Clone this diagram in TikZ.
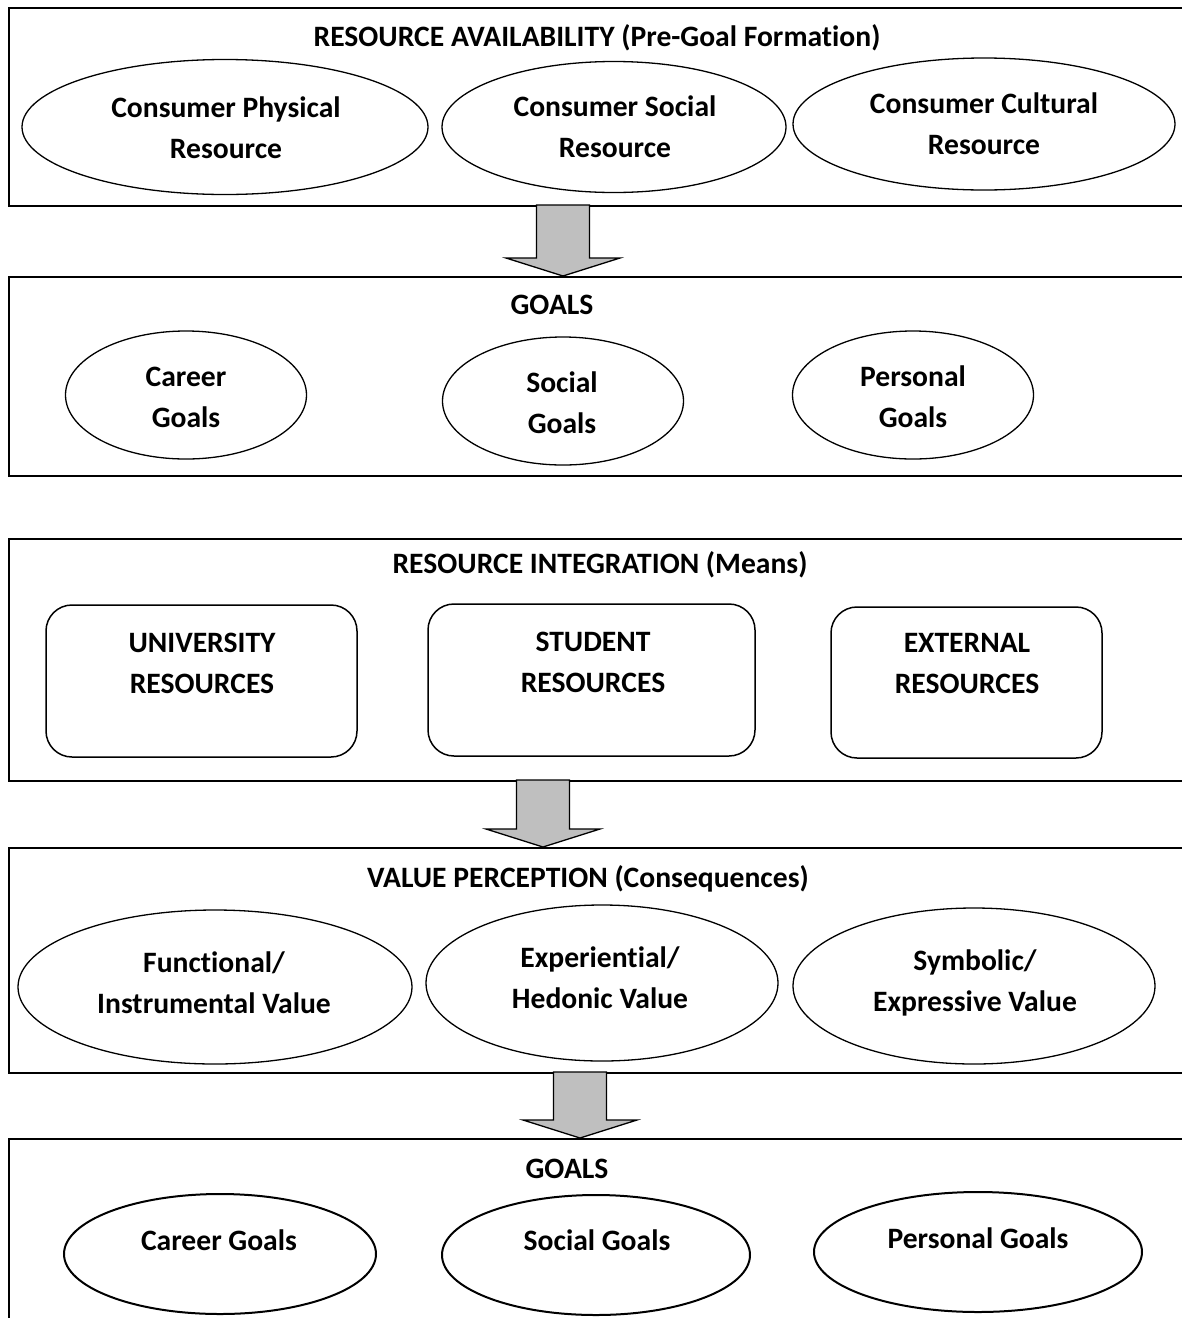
\documentclass[tikz,border=0pt]{standalone}
\usepackage{fontspec}
\setmainfont{Carlito}[Ligatures=NoCommon]
\usetikzlibrary{calc,shapes.geometric}
\definecolor{arrowgray}{HTML}{BFBFBF}
\newcommand\lbl{\fontsize{29.6}{41}\selectfont\bfseries}
% hollow block arrow from a shaft top (#1) to a tip (#2)
\newcommand\blockarrow[2]{%
  \draw[blockarrow] ($(#1)+(-26.5,0)$) -- ($(#2)+(-26.5,-18)$) -- ($(#2)+(-57,-18)$)
    -- (#2) -- ($(#2)+(57,-18)$) -- ($(#2)+(26.5,-18)$) -- ($(#1)+(26.5,0)$) -- cycle;}
\begin{document}
\begin{tikzpicture}[x=1pt,y=-1pt,
  panel/.style={draw, line width=1.7pt, rectangle, anchor=north west, inner sep=0pt},
  oval/.style={draw, ellipse, line width=1.3pt, inner sep=0pt},
  thickoval/.style={oval, line width=2pt},
  roundbox/.style={draw, rectangle, rounded corners=26pt, line width=1.5pt, inner sep=0pt},
  txt/.style={font=\lbl, align=center, inner sep=0pt},
  blockarrow/.style={draw, line width=1.3pt, fill=arrowgray, line join=miter}]
\clip (0,0) rectangle (1182,1318);
\fill[white] (0,0) rectangle (1182,1318);

% ---- Resource availability ----
\node[panel, minimum width=1200pt, minimum height=198pt] (box1) at (8,7) {};
\node[txt] (title1) at (597,38) {RESOURCE AVAILABILITY (Pre-Goal Formation)};
\node[oval, minimum width=406pt, minimum height=135pt] (phys) at (225,127) {};
\node[txt] (physT) at (226,128) {Consumer Physical\\Resource};
\node[oval, minimum width=344pt, minimum height=131pt] (soc) at (614,127) {};
\node[txt] (socT) at (615,127) {Consumer Social\\Resource};
\node[oval, minimum width=382pt, minimum height=132pt] (cult) at (984,124) {};
\node[txt] (cultT) at (984,124) {Consumer Cultural\\Resource};

% ---- Goals ----
\node[panel, minimum width=1200pt, minimum height=199pt] (box2) at (8,276) {};
\node[txt] (title2) at (552,305) {GOALS};
\node[oval, minimum width=241pt, minimum height=128pt] (career) at (186,395) {};
\node[txt] (careerT) at (186,397) {Career\\Goals};
\node[oval, minimum width=241pt, minimum height=128pt] (social) at (563,401) {};
\node[txt] (socialT) at (562,403) {Social\\Goals};
\node[oval, minimum width=241pt, minimum height=128pt] (personal) at (913,395) {};
\node[txt] (personalT) at (913,397) {Personal\\Goals};

\coordinate (a1top) at (563,205);
\coordinate (a1tip) at (563,276);
\blockarrow{a1top}{a1tip}

% ---- Resource integration ----
\node[panel, minimum width=1200pt, minimum height=242pt] (box3) at (8,538) {};
\node[txt] (title3) at (600,565) {RESOURCE INTEGRATION (Means)};
\node[roundbox, minimum width=311pt, minimum height=152pt] (univ) at (201.5,681) {};
\node[txt] (univT) at (202,663) {UNIVERSITY\\RESOURCES};
\node[roundbox, minimum width=327pt, minimum height=152pt] (stud) at (591.5,680) {};
\node[txt] (studT) at (593,662) {STUDENT\\RESOURCES};
\node[roundbox, minimum width=271pt, minimum height=151pt] (ext) at (966.5,682.5) {};
\node[txt] (extT) at (967,664) {EXTERNAL\\RESOURCES};

\coordinate (a2top) at (543,780);
\coordinate (a2tip) at (543,847);
\blockarrow{a2top}{a2tip}

% ---- Value perception ----
\node[panel, minimum width=1200pt, minimum height=225pt] (box4) at (8,847) {};
\node[txt] (title4) at (588,879) {VALUE PERCEPTION (Consequences)};
\node[oval, minimum width=394pt, minimum height=154pt] (func) at (215,987) {};
\node[txt] (funcT) at (214,983) {Functional/\\Instrumental Value};
\node[oval, minimum width=352pt, minimum height=156pt] (exper) at (602,983) {};
\node[txt] (experT) at (600,978) {Experiential/\\Hedonic Value};
\node[oval, minimum width=362pt, minimum height=156pt] (symb) at (974,986) {};
\node[txt] (symbT) at (975,983) {Symbolic/\\Expressive Value};

\coordinate (a3top) at (580,1072);
\coordinate (a3tip) at (580,1138);
\blockarrow{a3top}{a3tip}

% ---- Goals (outcome) ----
\node[panel, minimum width=1200pt, minimum height=240pt] (box5) at (8,1138) {};
\node[txt] (title5) at (567,1169) {GOALS};
\node[thickoval, minimum width=312pt, minimum height=120pt] (career2) at (220,1254) {};
\node[txt] (career2T) at (219,1240) {Career Goals};
\node[thickoval, minimum width=308pt, minimum height=120pt] (social2) at (596,1255) {};
\node[txt] (social2T) at (597,1240) {Social Goals};
\node[thickoval, minimum width=328pt, minimum height=120pt] (personal2) at (978,1252) {};
\node[txt] (personal2T) at (978,1238) {Personal Goals};
\end{tikzpicture}
\end{document}
